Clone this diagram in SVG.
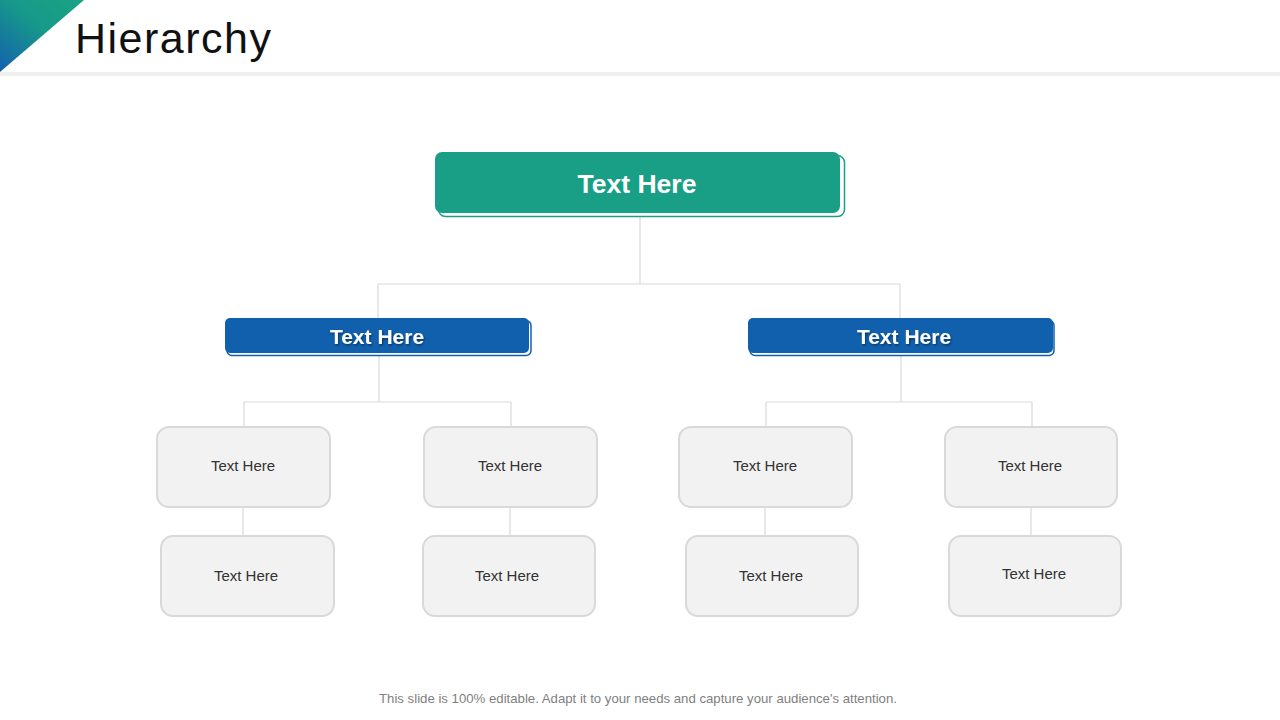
<svg xmlns="http://www.w3.org/2000/svg" width="1280" height="720" viewBox="0 0 1280 720">
<defs>
<linearGradient id="tri" x1="1" y1="0" x2="0" y2="1">
<stop offset="0" stop-color="#1aa383"/>
<stop offset="0.45" stop-color="#17998a"/>
<stop offset="1" stop-color="#1460ae"/>
</linearGradient>
<filter id="ts" x="-10%" y="-10%" width="130%" height="140%">
<feDropShadow dx="1" dy="1.5" stdDeviation="0.8" flood-color="#000" flood-opacity="0.45"/>
</filter>
</defs>
<style>
.conn line{stroke:#d9d9d9;stroke-width:1.2;fill:none}
.leaf{fill:#f2f2f2;stroke:#d9d9d9;stroke-width:2}
.leaft{font-family:"Liberation Sans",Arial,sans-serif;font-size:15px;fill:#333333;text-anchor:middle}
.mid{fill:#1160ae}
.midout{fill:#ffffff;stroke:#1160ae;stroke-width:1.5}
.midt{font-family:"Liberation Sans",Arial,sans-serif;font-size:21px;font-weight:bold;fill:#ffffff;text-anchor:middle}
</style>
<rect width="1280" height="720" fill="#ffffff"/>
<polygon points="0,0 84,0 0,72" fill="url(#tri)"/>
<rect x="0" y="72" width="1280" height="4" fill="#f0f0f0"/>
<text x="75" y="53" font-family="'Liberation Sans',Arial,sans-serif" font-size="43" fill="#111111" textLength="196" lengthAdjust="spacing">Hierarchy</text>

<g class="conn" id="connectors">
<line x1="640" y1="217" x2="640" y2="284"/>
<line x1="378" y1="284" x2="900" y2="284"/>
<line x1="378" y1="284" x2="378" y2="318"/>
<line x1="900" y1="284" x2="900" y2="318"/>
<line x1="379" y1="356" x2="379" y2="402"/>
<line x1="244" y1="402" x2="511" y2="402"/>
<line x1="244" y1="402" x2="244" y2="427"/>
<line x1="511" y1="402" x2="511" y2="427"/>
<line x1="901" y1="356" x2="901" y2="402"/>
<line x1="766" y1="402" x2="1032" y2="402"/>
<line x1="766" y1="402" x2="766" y2="427"/>
<line x1="1032" y1="402" x2="1032" y2="427"/>
<line x1="243" y1="507" x2="243" y2="536"/>
<line x1="510" y1="507" x2="510" y2="536"/>
<line x1="765" y1="507" x2="765" y2="536"/>
<line x1="1031" y1="507" x2="1031" y2="536"/>
</g>

<g id="root">
<rect x="438.5" y="155.5" width="406" height="61" rx="7" fill="#ffffff" stroke="#1a9f87" stroke-width="1.5"/>
<rect x="435" y="152" width="405" height="61" rx="7" fill="#1a9f87"/>
<text x="637" y="193" font-family="'Liberation Sans',Arial,sans-serif" font-size="26.5" font-weight="bold" fill="#ffffff" text-anchor="middle">Text Here</text>
</g>

<g id="mid-left">
<rect class="midout" x="227" y="320.5" width="304" height="35" rx="5"/>
<rect class="mid" x="225" y="318" width="304" height="35" rx="5"/>
<text class="midt" x="377" y="344" filter="url(#ts)">Text Here</text>
</g>
<g id="mid-right">
<rect class="midout" x="750" y="320.5" width="304" height="35" rx="5"/>
<rect class="mid" x="748" y="318" width="305" height="35" rx="5"/>
<text class="midt" x="904" y="344" filter="url(#ts)">Text Here</text>
</g>

<g id="leaf-1"><rect class="leaf" x="157" y="427" width="173" height="80" rx="12"/><text class="leaft" x="243" y="471">Text Here</text></g>
<g id="leaf-2"><rect class="leaf" x="424" y="427" width="173" height="80" rx="12"/><text class="leaft" x="510" y="471">Text Here</text></g>
<g id="leaf-3"><rect class="leaf" x="679" y="427" width="173" height="80" rx="12"/><text class="leaft" x="765" y="471">Text Here</text></g>
<g id="leaf-4"><rect class="leaf" x="945" y="427" width="172" height="80" rx="12"/><text class="leaft" x="1030" y="471">Text Here</text></g>
<g id="leaf-5"><rect class="leaf" x="161" y="536" width="173" height="80" rx="12"/><text class="leaft" x="246" y="581">Text Here</text></g>
<g id="leaf-6"><rect class="leaf" x="423" y="536" width="172" height="80" rx="12"/><text class="leaft" x="507" y="581">Text Here</text></g>
<g id="leaf-7"><rect class="leaf" x="686" y="536" width="172" height="80" rx="12"/><text class="leaft" x="771" y="581">Text Here</text></g>
<g id="leaf-8"><rect class="leaf" x="949" y="536" width="172" height="80" rx="12"/><text class="leaft" x="1034" y="579">Text Here</text></g>

<text x="638" y="703" font-family="'Liberation Sans',Arial,sans-serif" font-size="13.2" fill="#7f7f7f" text-anchor="middle">This slide is 100% editable. Adapt it to your needs and capture your audience's attention.</text>
</svg>
